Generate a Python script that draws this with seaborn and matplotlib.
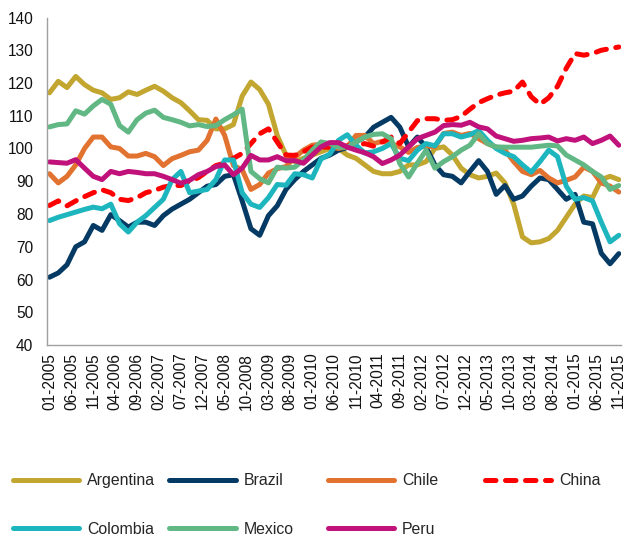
import matplotlib
matplotlib.use("Agg")
import matplotlib.pyplot as plt
import pandas as pd
import seaborn as sns
from matplotlib.lines import Line2D

# month index (0 = 01-2005), sampled every 2 months
months = list(range(0, 131, 2))

tick_labels = ["01-2005", "06-2005", "11-2005", "04-2006", "09-2006", "02-2007", "07-2007",
               "12-2007", "05-2008", "10-2008", "03-2009", "08-2009", "01-2010", "06-2010",
               "11-2010", "04-2011", "09-2011", "02-2012", "07-2012", "12-2012", "05-2013",
               "10-2013", "03-2014", "08-2014", "01-2015", "06-2015", "11-2015"]

argentina = [117.0, 120.5, 118.6, 122.0, 119.5, 117.8, 117.0, 115.0, 115.5, 117.3,
             116.5, 117.8, 119.0, 117.5, 115.5, 114.0, 111.5, 108.8, 108.6, 106.0,
             106.0, 107.3, 116.0, 120.3, 118.0, 113.5, 104.0, 98.0, 96.0, 97.0,
             98.0, 99.0, 100.0, 100.0, 98.0, 97.0, 95.0, 93.0, 92.3, 92.3,
             93.0, 95.0, 95.0, 96.0, 100.0, 100.5, 98.0, 94.0, 92.0, 91.0,
             91.5, 92.5, 89.5, 83.0, 73.0, 71.2, 71.5, 72.5, 75.0, 79.0,
             83.0, 85.5, 85.0, 90.5, 91.5, 90.5]

brazil = [60.7, 62.0, 64.5, 70.0, 71.5, 76.5, 75.0, 79.8, 78.0, 76.0,
          77.5, 77.5, 76.5, 79.5, 81.5, 83.0, 84.5, 86.5, 88.5, 89.0,
          91.5, 92.0, 84.0, 75.5, 73.5, 79.5, 82.5, 87.5, 90.5, 93.0,
          95.0, 97.0, 98.0, 99.5, 100.3, 102.0, 103.5, 106.5, 108.0, 109.5,
          106.5, 100.5, 103.5, 100.4, 95.0, 92.0, 91.5, 89.5, 93.0, 96.3,
          93.0, 86.0, 88.7, 84.5, 85.5, 88.5, 91.0, 90.5, 87.5, 84.5,
          86.0, 77.5, 77.0, 68.0, 64.8, 67.9]

chile = [92.3, 89.5, 91.5, 95.0, 100.0, 103.5, 103.5, 100.5, 100.0, 97.7,
         97.7, 98.5, 97.5, 94.8, 96.9, 97.9, 99.0, 99.5, 102.5, 109.0,
         104.0, 94.8, 93.5, 87.5, 89.0, 92.5, 93.8, 94.5, 97.3, 99.5,
         101.0, 101.3, 100.5, 100.0, 100.5, 104.0, 104.0, 101.5, 102.2, 101.5,
         100.5, 98.8, 100.3, 100.8, 100.5, 104.6, 105.0, 104.0, 104.6, 103.0,
         101.5, 100.4, 99.5, 96.0, 93.0, 92.0, 93.3, 91.0, 89.5, 90.3,
         91.3, 94.3, 93.0, 89.5, 88.5, 86.7]

china = [82.6, 84.0, 82.5, 84.0, 85.3, 86.5, 87.4, 86.5, 84.5, 84.1,
         85.0, 86.5, 87.2, 88.2, 88.7, 88.7, 90.0, 91.1, 93.0, 94.8,
         95.5, 97.0, 98.5, 101.5, 104.5, 106.0, 102.0, 98.0, 97.9, 99.0,
         100.4, 100.4, 100.4, 100.4, 100.8, 101.0, 101.5, 100.7, 102.0, 103.5,
         101.5, 105.0, 108.5, 109.1, 109.1, 108.6, 108.8, 109.8, 112.0, 114.0,
         115.2, 116.3, 117.0, 117.5, 120.3, 115.8, 113.5, 115.5, 119.0, 124.5,
         129.0, 128.5, 129.0, 130.0, 130.5, 131.0]

colombia = [78.0, 79.0, 79.8, 80.6, 81.4, 82.1, 81.6, 83.0, 77.0, 74.5,
            77.5, 79.5, 82.0, 84.5, 90.5, 93.0, 86.5, 87.0, 87.5, 90.5,
            96.5, 96.5, 86.5, 83.0, 82.0, 85.0, 89.0, 88.8, 92.3, 92.0,
            91.0, 96.8, 98.3, 102.5, 104.2, 101.0, 98.6, 99.0, 100.0, 101.5,
            97.0, 96.3, 99.5, 101.5, 100.8, 104.5, 104.5, 103.5, 104.2, 105.5,
            102.5, 100.0, 98.5, 97.5, 95.0, 92.8, 96.0, 99.5, 97.5, 88.5,
            84.5, 85.0, 84.0, 77.5, 71.5, 73.5]

mexico = [106.6, 107.3, 107.5, 111.5, 110.5, 113.0, 115.0, 113.5, 107.0, 105.0,
          108.8, 110.8, 111.7, 109.5, 108.8, 108.0, 106.9, 107.3, 106.7, 107.0,
          108.8, 110.3, 112.0, 93.0, 90.8, 89.5, 94.3, 94.0, 94.3, 96.5,
          99.5, 102.0, 101.5, 100.4, 100.4, 102.0, 103.5, 104.3, 104.5, 103.0,
          95.4, 91.3, 95.5, 99.5, 94.0, 96.0, 97.5, 99.5, 101.0, 104.5,
          101.5, 100.5, 100.4, 100.4, 100.4, 100.4, 100.7, 101.0, 100.8, 98.0,
          96.5, 95.0, 93.0, 91.3, 87.5, 88.7]

peru = [95.9, 95.7, 95.5, 96.6, 94.0, 91.5, 90.5, 93.0, 92.3, 93.0,
        92.7, 92.3, 92.3, 91.5, 90.5, 89.4, 90.3, 92.0, 93.0, 94.5,
        95.0, 92.0, 94.0, 97.9, 96.5, 96.5, 97.5, 96.3, 96.3, 95.5,
        98.0, 100.5, 101.8, 101.8, 100.4, 99.5, 98.7, 97.5, 95.4, 96.5,
        98.0, 100.5, 103.0, 104.0, 105.0, 107.0, 107.3, 107.1, 108.0, 106.6,
        106.0, 103.8, 103.0, 102.2, 102.5, 103.0, 103.2, 103.5, 102.3, 103.0,
        102.5, 103.5, 101.5, 102.5, 103.8, 101.0]

countries = ["Argentina", "Brazil", "Chile", "China", "Colombia", "Mexico", "Peru"]
series = [argentina, brazil, chile, china, colombia, mexico, peru]
colors = {"Argentina": "#C2A630", "Brazil": "#043A63", "Chile": "#E2722F",
          "China": "#FF0000", "Colombia": "#1DB6BE", "Mexico": "#62B884",
          "Peru": "#C0127A"}
dashes = {c: "" for c in countries}
dashes["China"] = (2.1, 1.9)

df = pd.concat([pd.DataFrame({"month": months, "value": vals, "country": name})
                for name, vals in zip(countries, series)], ignore_index=True)

sns.set_style("white")
plt.rcParams["font.family"] = ["Liberation Sans", "DejaVu Sans"]
plt.rcParams["lines.solid_capstyle"] = "round"
plt.rcParams["lines.dash_capstyle"] = "round"
plt.rcParams["lines.solid_joinstyle"] = "round"
plt.rcParams["lines.dash_joinstyle"] = "round"

W, H = 623, 537
fig = plt.figure(figsize=(W / 100, H / 100), dpi=100)
ax = fig.add_axes([47.3 / W, 1 - 345 / H, 573.7 / W, 327.5 / H])

lw = 3.6
sns.lineplot(data=df, x="month", y="value", hue="country", style="country",
             hue_order=countries, style_order=countries, palette=colors,
             dashes=dashes, linewidth=lw, estimator=None, legend=False, ax=ax)

ax.set_xlim(-0.5, 130.5)
ax.set_ylim(40, 140)
ax.set_yticks(range(40, 141, 10))
# tick marks sit between categories, labels on the category itself
ax.set_xticks([m - 0.5 for m in range(0, 131, 5)])
ax.set_xticklabels([])
ax.set_xticks(list(range(0, 131, 5)), minor=True)
ax.set_xticklabels(tick_labels, minor=True, rotation=90)
ax.set_xlabel("")
ax.set_ylabel("")
for side in ["top", "right"]:
    ax.spines[side].set_visible(False)
for side in ["left", "bottom"]:
    ax.spines[side].set_color("#A0A0A0")
    ax.spines[side].set_linewidth(1)
ax.tick_params(axis="y", direction="out", length=3.6, width=1, color="#A0A0A0",
               labelsize=11.2, labelcolor="#111111", pad=6.5)
ax.tick_params(axis="x", which="major", direction="out", length=3, width=1, color="#A0A0A0")
ax.tick_params(axis="x", which="minor", length=0, labelsize=11.2,
               labelcolor="#111111", pad=5.5)

# legend: one entry per slot, laid out like the original grid
fs = 11.4
legend_pos = {"Argentina": (12.5, 480.7), "Brazil": (169.5, 480.7),
              "Chile": (327.5, 480.7), "China": (484.5, 480.7),
              "Colombia": (12.5, 529), "Mexico": (169.5, 529), "Peru": (327.5, 529)}
for c in countries:
    if c == "China":
        h = Line2D([], [], color=colors[c], lw=lw, dashes=dashes[c], dash_capstyle="round")
    else:
        h = Line2D([], [], color=colors[c], lw=lw, solid_capstyle="round")
    x, y = legend_pos[c]
    fig.legend([h], [c], loc="center left", bbox_to_anchor=(x / W, 1 - y / H),
               frameon=False, handlelength=4.23, handletextpad=0.47, fontsize=fs,
               borderpad=0, borderaxespad=0)

fig.savefig("out.png", dpi=100)
